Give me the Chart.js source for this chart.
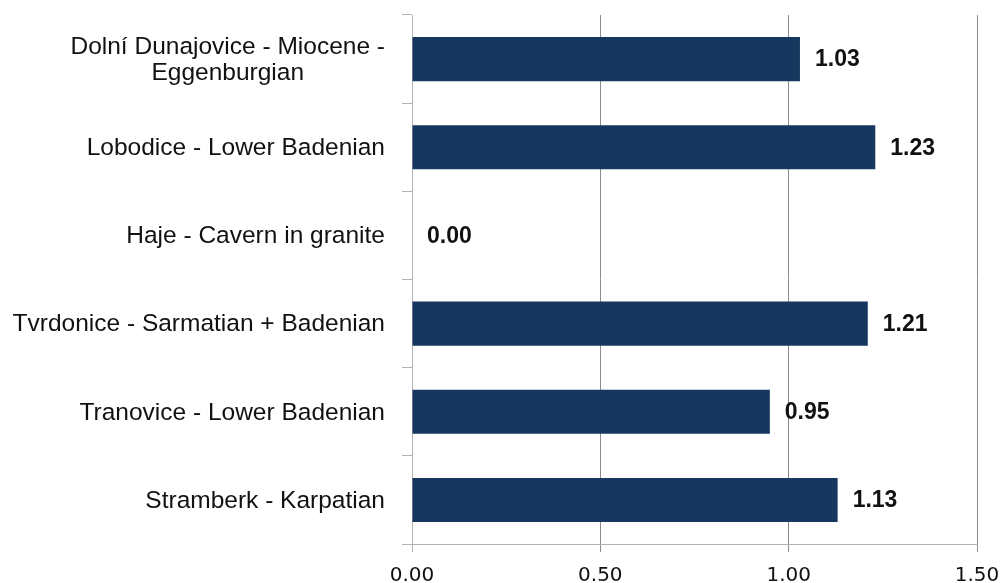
<!DOCTYPE html>
<html>
<head>
<meta charset="utf-8">
<script src="https://cdn.jsdelivr.net/npm/chart.js@4/dist/chart.umd.min.js"></script>
<style>
  html, body { margin: 0; padding: 0; background: #fff; }
  #wrap { width: 1006px; height: 583px; }
</style>
</head>
<body>
<div id="wrap"><canvas id="c" width="1006" height="583"></canvas></div>
<script>
// ---- data ----
const categories = [
  ["Dolní Dunajovice - Miocene -", "Eggenburgian"],
  "Lobodice - Lower Badenian",
  "Haje - Cavern in granite",
  "Tvrdonice - Sarmatian + Badenian",
  "Tranovice - Lower Badenian",
  "Stramberk - Karpatian"
];
const values = [1.03, 1.23, 0.00, 1.21, 0.95, 1.13];
const xTickValues = [0, 0.5, 1.0, 1.5];
const xMin = 0;
const xMax = 1.5;

// ---- styles ----
const barColor = '#17375E';
const gridColor = '#8c8c8c';
const axisColor = '#b3b3b3';

const yLabelPlugin = {
  id: 'yLabels',
  afterDraw(chart) {
    const ctx = chart.ctx;
    const ys = chart.scales.y;
    const rightEdge = ys.right - 10 - 17;
    const lineH = 26;
    ctx.save();
    ctx.font = "24.5px 'Liberation Sans', Arial, sans-serif";
    ctx.fillStyle = '#111';
    ctx.textBaseline = 'middle';
    ctx.textAlign = 'center';
    categories.forEach((lab, i) => {
      const lines = Array.isArray(lab) ? lab : [lab];
      const maxW = Math.max(...lines.map(l => ctx.measureText(l).width));
      const cx = rightEdge - maxW / 2;
      const cy = ys.getPixelForValue(i) + 1;
      const y0 = cy - (lines.length - 1) * lineH / 2;
      lines.forEach((l, k) => ctx.fillText(l, cx, y0 + k * lineH));
    });
    ctx.restore();
  }
};

const valueLabelPlugin = {
  id: 'valueLabels',
  afterDatasetsDraw(chart) {
    const ctx = chart.ctx;
    const meta = chart.getDatasetMeta(0);
    ctx.save();
    ctx.font = "bold 23px 'Liberation Sans', Arial, sans-serif";
    ctx.fillStyle = '#111';
    ctx.textBaseline = 'middle';
    ctx.textAlign = 'left';
    meta.data.forEach((bar, i) => {
      ctx.fillText(values[i].toFixed(2), bar.x + 15, bar.y + 1);
    });
    ctx.restore();
  }
};

new Chart(document.getElementById('c'), {
  type: 'bar',
  data: {
    labels: categories,
    datasets: [{
      data: values,
      backgroundColor: barColor,
      borderWidth: 0,
      categoryPercentage: 1.0,
      barPercentage: 0.5
    }]
  },
  options: {
    indexAxis: 'y',
    responsive: false,
    animation: false,
    devicePixelRatio: 1,
    layout: { padding: { top: 15, right: 29, left: 0, bottom: 0 } },
    plugins: { legend: { display: false }, tooltip: { enabled: false } },
    scales: {
      x: {
        type: 'linear',
        min: xMin,
        max: xMax,
        afterBuildTicks(s) { s.ticks = xTickValues.map(v => ({ value: v })); },
        afterFit(s) { s.height = 583 - 544; s.paddingLeft = 0; s.paddingRight = 0; },
        ticks: {
          padding: 12,
          color: '#111',
          font: { family: "'DejaVu Sans', Verdana, sans-serif", size: 20 },
          callback: v => Number(v).toFixed(2)
        },
        grid: {
          color: ctx => ctx.index === 0 ? axisColor : gridColor,
          tickColor: ctx => ctx.index === 0 ? axisColor : gridColor,
          tickLength: 8,
          lineWidth: 1
        },
        border: { color: axisColor, width: 1 }
      },
      y: {
        type: 'category',
        afterFit(s) { s.width = 412; s.paddingTop = 0; s.paddingBottom = 0; },
        ticks: { display: false },
        grid: {
          offset: true,
          drawOnChartArea: false,
          tickLength: 10,
          color: axisColor
        },
        border: { color: axisColor, width: 1 }
      }
    }
  },
  plugins: [yLabelPlugin, valueLabelPlugin]
});
</script>
</body>
</html>
